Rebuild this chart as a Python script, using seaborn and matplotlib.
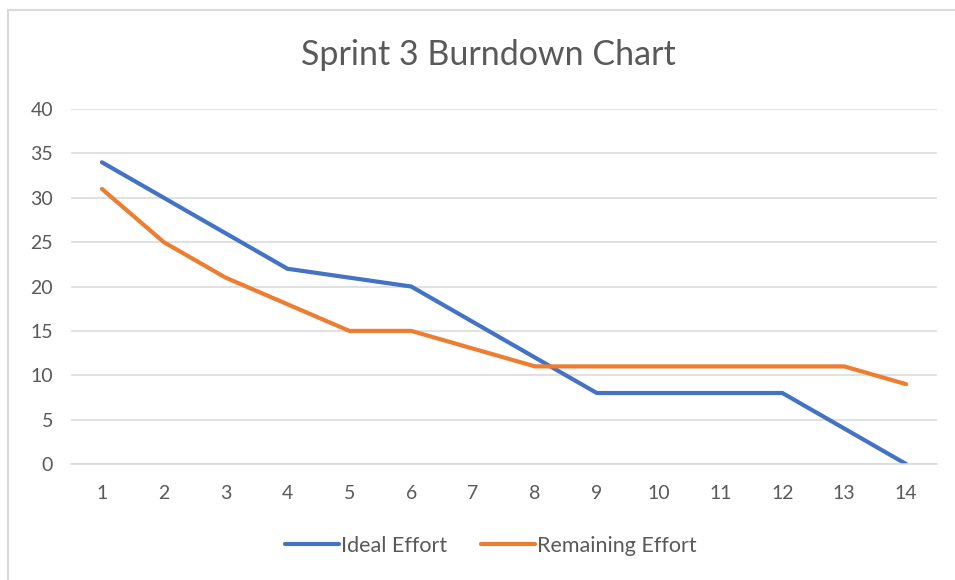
import matplotlib
matplotlib.use("Agg")
import matplotlib.pyplot as plt
import seaborn as sns
import pandas as pd
from matplotlib.patches import Rectangle

sns.set_theme(style="white")
plt.rcParams["font.family"] = ["Lato", "DejaVu Sans"]

# data
days = list(range(1, 15))
ideal_effort = [34, 30, 26, 22, 21, 20, 16, 12, 8, 8, 8, 8, 4, 0]
remaining_effort = [31, 25, 21, 18, 15, 15, 13, 11, 11, 11, 11, 11, 11, 9]
y_ticks = [0, 5, 10, 15, 20, 25, 30, 35, 40]

df = pd.DataFrame({
    "Day": days * 2,
    "Effort": ideal_effort + remaining_effort,
    "Series": ["Ideal Effort"] * len(days) + ["Remaining Effort"] * len(days),
})

text_col = "#595959"
grid_col = "#D9D9D9"

fig = plt.figure(figsize=(9.55, 5.8), dpi=100)
ax = fig.add_axes([71 / 955, 0.2, 866 / 955, 0.612])

sns.lineplot(
    data=df, x="Day", y="Effort", hue="Series",
    palette={"Ideal Effort": "#4472C4", "Remaining Effort": "#ED7D31"},
    linewidth=3.0, ax=ax, legend=True,
)

ax.set_xlim(0.5, 14.5)
ax.set_ylim(0, 40)
ax.set_xticks(days)
ax.set_yticks(y_ticks)
ax.yaxis.grid(True, color=grid_col, linewidth=1.1)
ax.set_axisbelow(True)
for side in ["top", "right", "left"]:
    ax.spines[side].set_visible(False)
ax.spines["bottom"].set_color(grid_col)
ax.spines["bottom"].set_linewidth(1.1)
ax.tick_params(axis="both", length=0, labelsize=14, labelcolor=text_col)
ax.tick_params(axis="x", pad=15)
ax.tick_params(axis="y", pad=13)
ax.set_xlabel("")
ax.set_ylabel("")

fig.text(488 / 955, 1 - 55 / 580, "Sprint 3 Burndown Chart", ha="center", va="center",
         fontsize=24.5, color=text_col)

handles, labels = ax.get_legend_handles_labels()
ax.legend(handles, labels, loc="center", bbox_to_anchor=(0.485, -0.231), ncol=2,
          frameon=False, fontsize=15.5, labelcolor=text_col, handlelength=2.5,
          handletextpad=0.1, columnspacing=1.6)

# chart frame (cropped at right and bottom)
fig.patches.append(Rectangle((8 / 955, -0.1), 1.2, (580 - 10) / 580 + 0.1,
                             transform=fig.transFigure, fill=False,
                             edgecolor="#D9D9D9", linewidth=1.5))

fig.savefig("out.png", dpi=100)
